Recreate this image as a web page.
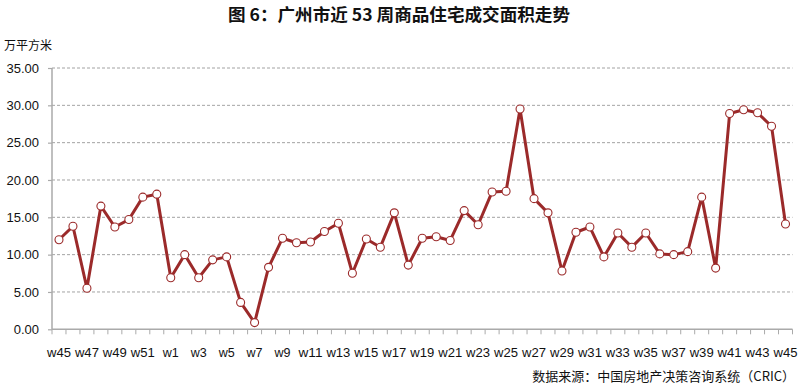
<!DOCTYPE html>
<html>
<head>
<meta charset="utf-8">
<script src="https://cdn.jsdelivr.net/npm/d3@7"></script>
<style>
  body { margin: 0; background: #fff; }
  svg { display: block; font-family: Arial, 'Liberation Sans', sans-serif; }
</style>
</head>
<body>
<div id="chart"></div>
<script>
const weeks = [
  'w45', 'w46', 'w47', 'w48', 'w49', 'w50', 'w51', 'w52',
  'w1', 'w2', 'w3', 'w4', 'w5', 'w6', 'w7', 'w8', 'w9', 'w10',
  'w11', 'w12', 'w13', 'w14', 'w15', 'w16', 'w17', 'w18', 'w19', 'w20',
  'w21', 'w22', 'w23', 'w24', 'w25', 'w26', 'w27', 'w28', 'w29', 'w30',
  'w31', 'w32', 'w33', 'w34', 'w35', 'w36', 'w37', 'w38', 'w39', 'w40',
  'w41', 'w42', 'w43', 'w44', 'w45 '
]

const area = [
  12.0, 13.8, 5.5, 16.5, 13.7, 14.7, 17.7, 18.1,
  6.9, 10.0, 6.9, 9.3, 9.7, 3.6, 0.9, 8.3, 12.2, 11.6,
  11.7, 13.1, 14.2, 7.5, 12.1, 11.0, 15.6, 8.6, 12.2, 12.4,
  11.9, 15.9, 14.0, 18.4, 18.5, 29.5, 17.5, 15.6, 7.8, 13.0,
  13.7, 9.7, 12.9, 11.0, 12.9, 10.1, 10.0, 10.4, 17.7, 8.2,
  28.9, 29.4, 29.0, 27.2, 14.1
]

const yTicks = [0, 5, 10, 15, 20, 25, 30, 35]

const title = '图 6：广州市近 53 周商品住宅成交面积走势'
const unitLabel = '万平方米'
const source = '数据来源：中国房地产决策咨询系统（CRIC）'

const margin = { top: 68, right: 10, bottom: 58, left: 52 }
const totalWidth = 803
const totalHeight = 387
const width = totalWidth - margin.left - margin.right
const height = totalHeight - margin.top - margin.bottom

const lineColor = '#9b2a2a'

const root = d3
  .select('#chart')
  .append('svg')
  .attr('width', totalWidth)
  .attr('height', totalHeight)

const svg = root
  .append('g')
  .attr('transform', 'translate(' + margin.left + ',' + margin.top + ')')

const xPositionScale = d3
  .scaleBand()
  .domain(weeks)
  .range([0, 740.5])

const yPositionScale = d3
  .scaleLinear()
  .domain([0, 35])
  .range([height + 0.3, 0])

// title + unit
root
  .append('text')
  .text(title)
  .attr('x', 228)
  .attr('y', 21)
  .attr('font-size', 17)
  .attr('font-weight', 'bold')
  .attr('font-family', "'Noto Sans CJK SC', sans-serif")
  .attr('textLength', 342)
  .attr('lengthAdjust', 'spacingAndGlyphs')
  .attr('fill', '#111')

root
  .append('text')
  .text(unitLabel)
  .attr('x', 4)
  .attr('y', 50)
  .attr('font-size', 12)
  .attr('font-family', "'Noto Sans CJK SC', sans-serif")
  .attr('fill', '#111')

// gridlines
svg
  .selectAll('.grid')
  .data(yTicks.filter(d => d > 0))
  .enter()
  .append('line')
  .attr('class', 'grid')
  .attr('x1', 0)
  .attr('x2', 740.5)
  .attr('y1', d => yPositionScale(d))
  .attr('y2', d => yPositionScale(d))
  .attr('stroke', '#8c8c8c')
  .attr('stroke-width', 0.8)
  .attr('stroke-dasharray', '3,2')

// y axis
const yAxis = d3
  .axisLeft(yPositionScale)
  .tickValues(yTicks)
  .tickSize(4)
  .tickPadding(9)
  .tickFormat(d3.format('.2f'))

const yG = svg.append('g').attr('class', 'y-axis').call(yAxis)
yG.select('.domain').remove()
yG.selectAll('line').attr('stroke', '#aaa').attr('stroke-width', 1.2)
yG.selectAll('text').attr('font-size', 13).attr('fill', '#111')

svg
  .append('line')
  .attr('x1', 0)
  .attr('x2', 0)
  .attr('y1', 0)
  .attr('y2', yPositionScale(0))
  .attr('stroke', '#aaa')
  .attr('stroke-width', 1.5)

// x axis: ticks at band boundaries
const xG = svg
  .append('g')
  .attr('class', 'x-axis')
  .attr('transform', 'translate(0,' + yPositionScale(0) + ')')

xG.append('line')
  .attr('x1', 0)
  .attr('x2', 740.5)
  .attr('stroke', '#aaa')
  .attr('stroke-width', 1.5)

xG.selectAll('.tick-mark')
  .data(weeks.concat(['end']))
  .enter()
  .append('line')
  .attr('class', 'tick-mark')
  .attr('x1', (d, i) => i * xPositionScale.step())
  .attr('x2', (d, i) => i * xPositionScale.step())
  .attr('y1', 0)
  .attr('y2', 5)
  .attr('stroke', '#aaa')
  .attr('stroke-width', 1)

xG.selectAll('.x-label')
  .data(weeks.filter((d, i) => i % 2 === 0))
  .enter()
  .append('text')
  .attr('class', 'x-label')
  .text(d => d.trim())
  .attr('x', d => xPositionScale(d) + xPositionScale.bandwidth() / 2)
  .attr('y', 28)
  .attr('text-anchor', 'middle')
  .attr('font-size', 12.5)
  .attr('textLength', d => (d.trim().length > 2 ? 24 : 16))
  .attr('lengthAdjust', 'spacingAndGlyphs')
  .attr('fill', '#111')

// line
const line = d3
  .line()
  .x((d, i) => xPositionScale(weeks[i]) + xPositionScale.bandwidth() / 2)
  .y(d => yPositionScale(d))

svg
  .append('path')
  .datum(area)
  .attr('d', line)
  .attr('fill', 'none')
  .attr('stroke', lineColor)
  .attr('stroke-width', 3)
  .attr('stroke-linejoin', 'round')

svg
  .selectAll('.dot')
  .data(area)
  .enter()
  .append('circle')
  .attr('class', 'dot')
  .attr('cx', (d, i) => xPositionScale(weeks[i]) + xPositionScale.bandwidth() / 2)
  .attr('cy', d => yPositionScale(d))
  .attr('r', 4)
  .attr('fill', '#fff')
  .attr('stroke', lineColor)
  .attr('stroke-width', 1.1)

// source note
root
  .append('text')
  .text(source)
  .attr('x', 795)
  .attr('y', 381)
  .attr('text-anchor', 'end')
  .attr('font-size', 13)
  .attr('font-family', "'Noto Sans CJK SC', sans-serif")
  .attr('fill', '#111')
</script>
</body>
</html>
